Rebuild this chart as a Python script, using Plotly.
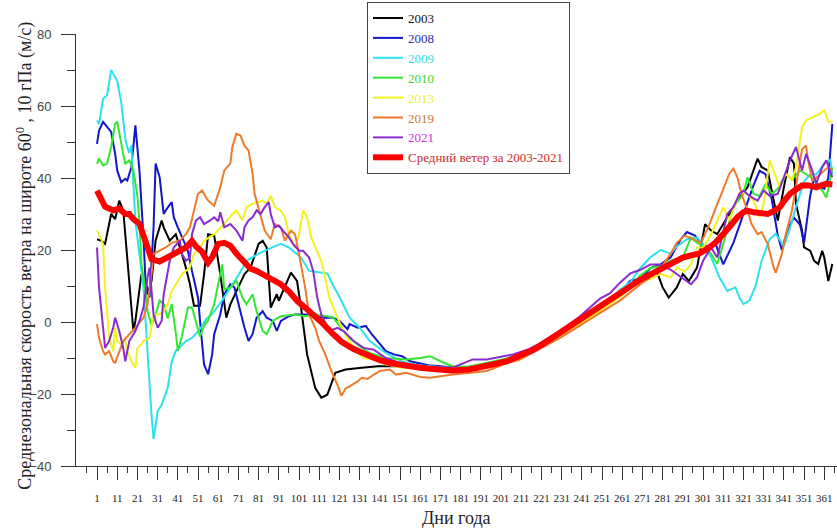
import plotly.graph_objects as go

# Day-of-year knots and zonal-mean wind (m/s) at 60N, 10 hPa
DAYS_2003 = [1, 3, 5, 8, 10, 12, 14, 16, 18, 19, 20, 23, 24, 26, 28, 30, 33, 34, 37, 40, 43, 45, 47, 49, 52, 54,
             56, 59, 62, 65, 67, 71, 74, 77, 81, 83, 85, 87, 90, 91, 94, 97, 100, 102, 105, 109, 112, 115, 119,
             124, 132, 140, 150, 160, 170, 180, 190, 200, 210, 220, 230, 240, 250, 260, 270, 278, 281, 284, 288,
             291, 294, 298, 302, 305, 308, 313, 318, 323, 328, 330, 333, 336, 338, 341, 344, 346, 347, 350, 351,
             354, 356, 358, 360, 361, 363, 365]
WIND_2003 = [23, 22.6, 21.7, 30, 28.6, 33.7, 31, 17, 4, -2.5, 0.3, 13.3, 11.4, 7.7, 11.4, 22.6, 28.2, 26.3, 22.6,
             24.4, 18.9, 15.1, 10.5, 4.5, 4.5, 13.3, 24.4, 24, 13.3, 1.2, 4.9, 9.6, 13.3, 15.1, 21.7, 22.6, 20.7,
             4, 7.7, 5.9, 9.6, 13.7, 11.4, 4, -9, -18.3, -21, -20.2, -14.1, -13.2, -12.7, -12.3, -12.3, -12.7,
             -13, -13, -12.5, -11, -9, -6.5, -3, 1, 4, 7.5, 12, 14.2, 9.6, 6.8, 9.6, 13.3, 11.4, 15.1, 27.2,
             25.4, 24.4, 29.1, 33.7, 37.4, 45.4, 43, 42.1, 33.7, 28.2, 37.4, 45.8, 44, 32.8, 25.4, 20.7, 19.8,
             17, 16.1, 19.8, 17.9, 11.4, 16.1]

DAYS_2008 = [1, 2, 4, 6, 8, 10, 11, 13, 15, 16, 18, 20, 22, 24, 25, 27, 29, 30, 32, 34, 35, 38, 39, 41, 43, 46,
             48, 51, 52, 54, 56, 58, 59, 62, 64, 67, 69, 71, 74, 76, 78, 80, 83, 85, 88, 90, 92, 96, 99, 104,
             109, 114, 118, 121, 125, 126, 130, 134, 137, 140, 144, 148, 152, 156, 165, 175, 185, 195, 200,
             210, 220, 230, 240, 250, 255, 260, 265, 270, 275, 280, 285, 290, 293, 297, 300, 304, 307, 311,
             316, 321, 326, 329, 332, 335, 338, 340, 343, 346, 349, 351, 354, 356, 358, 361, 363, 365]
WIND_2008 = [49.5, 53.2, 55.6, 54.2, 52.8, 46.7, 42.1, 38.8, 39.8, 39.3, 43, 54.6, 42.1, 23.5, 11.4, 6.8, 26.3,
             44, 40.2, 30, 31, 33.3, 29.1, 26.3, 23.5, 19.8, 14.2, 6.8, 0.3, -11.8, -14.5, -9, -3.4, 2.1, 7.7,
             10.5, 9.6, 4.9, -1.6, -5.3, -3.4, 1.2, 3, 1.2, 0.3, -2.5, 0.3, 1.6, 2.1, 2.1, 1.6, 1.2, 1.2, 0.3,
             -2, -0.6, -1.6, -1.1, -3.4, -5.3, -8.1, -9, -9.5, -10.9, -12, -12.5, -12.5, -11.5, -11, -9.5,
             -6.5, -3.5, 0.5, 4, 6, 8, 11.5, 12, 15, 16, 18, 23, 25, 24, 22, 20.5, 22, 16, 22, 30, 38, 42, 41,
             34, 24, 20, 26, 29, 27, 22, 35, 40, 38, 37, 40, 55]

DAYS_2009 = [1, 2, 4, 6, 8, 10, 11, 13, 15, 16, 17, 18, 20, 24, 26, 28, 29, 30, 31, 33, 36, 38, 40, 42, 45, 48,
             52, 55, 58, 63, 67, 71, 75, 78, 82, 87, 92, 96, 100, 102, 106, 111, 115, 118, 121, 126, 131, 136,
             140, 144, 152, 160, 170, 180, 190, 200, 210, 220, 230, 240, 250, 260, 265, 270, 275, 280, 285,
             288, 293, 298, 301, 305, 309, 313, 317, 319, 321, 324, 327, 330, 334, 337, 341, 344, 347, 351,
             354, 357, 361, 364, 365]
WIND_2009 = [56, 55, 62, 63, 70, 68, 67, 61, 51, 48.5, 47, 49, 28, 9.5, -9, -26, -32.5, -29, -24.8, -23, -18.3,
             -11, -8, -7, -5.3, -4.4, -2, 0.8, 2.2, 6, 9.6, 13, 17, 18, 19.3, 20.5, 21.7, 20.7, 19, 17.9, 14.2,
             13.7, 13.5, 10, 7, 1.2, -1.6, -5.3, -7, -8.6, -11, -12, -12.5, -12.8, -12, -11, -9, -6.5, -3.5, 0,
             3.5, 9, 11, 15, 18, 20, 19, 21, 23, 23.5, 21.7, 18, 12.5, 8.6, 9.6, 6.8, 5, 6, 10, 17, 23, 24.5,
             21, 26, 32, 39, 41, 41, 44, 45, 41]

DAYS_2010 = [1, 2, 4, 6, 8, 10, 11, 12, 14, 15, 17, 19, 21, 22, 23, 25, 26, 28, 30, 32, 34, 36, 38, 40, 41, 43,
             46, 48, 50, 52, 54, 56, 59, 62, 63, 64, 67, 70, 73, 75, 78, 80, 83, 85, 88, 92, 96, 99, 104, 109,
             115, 118, 121, 126, 131, 136, 144, 154, 161, 166, 171, 177, 185, 195, 205, 215, 225, 235, 245,
             255, 265, 270, 275, 280, 285, 291, 295, 298, 301, 305, 308, 311, 316, 321, 323, 326, 329, 332,
             335, 338, 342, 345, 349, 352, 355, 358, 360, 362, 363, 365]
WIND_2010 = [44, 45.4, 43.5, 44, 48.6, 55.1, 55.6, 52.3, 46.7, 44, 44.9, 42.1, 35, 28, 16.1, 8.6, 3, -1, 2, 6,
             5, 1, 5, -3, -8, -4, 4, 4, 0, -4, -1, 0.5, 5, 14, 16, 9, 9.6, 11.4, 6.8, 4.9, 7.7, 3, -2.5, -3.4,
             0.3, 1.6, 2, 2.1, 1.6, 2.1, 1.6, 1.2, -1.1, -4.4, -6.7, -8.6, -10, -10.4, -10, -9.5, -10.9, -12.3,
             -12.4, -11.3, -10, -7.8, -4.5, -1, 2.5, 6.5, 10, 13, 15, 15.5, 17, 18, 23.5, 22, 21, 18.9, 16.1,
             21.7, 31.9, 35.6, 40.2, 35.6, 35, 38.4, 35.6, 37, 41.2, 39.5, 42.1, 41, 40, 38, 36.5, 34.6, 37, 43]

DAYS_2013 = [1, 2, 4, 5, 7, 9, 10, 11, 13, 15, 16, 18, 20, 21, 23, 24, 27, 29, 32, 34, 36, 38, 41, 43, 47, 49,
             52, 54, 59, 64, 68, 70, 73, 75, 78, 81, 83, 85, 87, 89, 92, 94, 96, 99, 101, 103, 105, 107, 110,
             112, 114, 116, 120, 123, 126, 129, 133, 138, 144, 152, 160, 170, 180, 190, 200, 210, 220, 230,
             240, 250, 255, 260, 265, 270, 275, 280, 285, 288, 292, 295, 298, 301, 305, 308, 311, 314, 316,
             319, 322, 326, 329, 331, 334, 337, 339, 342, 345, 347, 350, 352, 356, 359, 361, 363, 365]
WIND_2013 = [25.4, 24.4, 21.7, 9.6, -4.4, -8.1, -1.6, -5.3, -6.2, -5.3, -8.1, -10.9, -12.7, -7.2, -6.2, -5.3,
             -4.4, 2.1, 2.1, 3, 4.9, 8.6, 11.4, 13.3, 15.1, 18.9, 20.7, 22.6, 24.4, 27.2, 30, 31, 28.2, 31.9,
             32.8, 33.3, 33.7, 32.8, 35.1, 31.9, 31, 29.1, 24.4, 20.7, 24.4, 31, 29.1, 23.5, 19.8, 17, 12, 6.8,
             1.2, -2.5, -5.3, -8.1, -10, -10.4, -11.8, -12.7, -13, -13.3, -13.3, -12.7, -11.5, -9.5, -7, -4,
             -0.5, 3, 5, 7, 9.5, 11, 12, 13.3, 12.4, 15.1, 14, 16, 20.7, 20.7, 24.4, 28.2, 31.9, 28.2, 31, 35.6,
             36, 33.7, 29.1, 33, 44.9, 40.2, 37.4, 41.2, 39.5, 43, 54.2, 56, 57, 57.9, 58.8, 55.6, 55.6]

DAYS_2019 = [1, 2, 4, 5, 7, 9, 10, 12, 14, 17, 20, 24, 26, 28, 29, 32, 35, 38, 42, 45, 47, 49, 51, 53, 56, 59,
             62, 64, 67, 68, 70, 72, 74, 76, 78, 79, 82, 84, 87, 89, 92, 94, 97, 99, 101, 104, 106, 109, 111,
             114, 117, 120, 122, 124, 126, 130, 132, 135, 138, 141, 146, 149, 154, 161, 166, 171, 177, 186,
             194, 202, 210, 220, 230, 240, 250, 260, 270, 275, 280, 285, 288, 292, 296, 300, 304, 308, 311,
             314, 316, 318, 320, 323, 325, 328, 330, 333, 336, 337, 340, 342, 345, 347, 350, 352, 353, 355,
             357, 361, 363, 365]
WIND_2019 = [-0.6, -4.4, -8.1, -9, -8.1, -10.9, -11.3, -8.1, -5.3, -3.4, -1.6, 1.2, 4.9, 13.3, 18.9, 19.8, 20.7,
             22, 22.6, 24.4, 26.3, 31, 35.6, 36.5, 33.7, 32.3, 37.4, 42.1, 44, 48.6, 52.3, 51.8, 49, 47.7, 41.2,
             35.6, 29.1, 25.4, 23, 27.2, 26.3, 22.6, 25.4, 24.4, 18.9, 9.6, 2.1, -1.6, -5.3, -9, -13.6, -17.4,
             -20.5, -18.5, -17.9, -16.5, -15.5, -15.8, -14.6, -13.6, -13.2, -14.6, -14.1, -15.3, -15.5, -15,
             -14.6, -14.1, -13.6, -11.8, -10.5, -7.5, -4.5, -1, 2.5, 6, 10.5, 12.5, 15, 19, 22, 24, 23, 22, 27,
             32.8, 37.4, 41.2, 42.6, 40.2, 35.6, 31, 27.2, 24.4, 25, 21.7, 15.1, 13.7, 18.9, 24.4, 30.9, 38, 48,
             49, 44.9, 39.3, 40, 42.1, 43, 42]

DAYS_2021 = [1, 2, 4, 5, 7, 9, 10, 12, 14, 15, 17, 20, 22, 24, 26, 27, 29, 31, 33, 34, 37, 39, 42, 43, 45, 47,
             48, 50, 52, 54, 57, 59, 61, 62, 64, 67, 70, 73, 74, 76, 78, 80, 82, 84, 86, 87, 89, 91, 93, 96, 98,
             101, 103, 106, 108, 110, 112, 115, 116, 120, 123, 128, 133, 138, 144, 153, 165, 177, 187, 194,
             202, 207, 215, 220, 230, 240, 245, 250, 255, 260, 265, 270, 275, 280, 285, 290, 295, 298, 301,
             305, 308, 310, 313, 316, 319, 321, 324, 328, 331, 334, 338, 341, 344, 347, 350, 352, 355, 357,
             360, 362, 365]
WIND_2021 = [20.7, 9.6, -1.6, -7.2, -5.3, -1.6, 1.2, -2.5, -7.2, -10.9, -5.3, -2.5, 0.3, 4, 12.4, 15.1, 2.1,
             -1.6, 0.3, 7.7, 17, 20.7, 22.6, 18.9, 17, 17.9, 24.4, 28.2, 29.1, 27.2, 28.2, 29.1, 28, 30.5,
             26.3, 27.2, 25.4, 22.6, 26.3, 28.2, 29.1, 31, 30, 31.9, 33.3, 30, 26.3, 26.8, 25.4, 23.5, 21.7,
             19.8, 19.8, 17.9, 14.2, 6.8, 2.1, -1.6, -2.5, -1.6, -2.5, -5.3, -7.2, -7.7, -10, -11.8, -12.5,
             -12.7, -10.4, -10.4, -9.5, -9, -7.5, -6, -2.5, 1.5, 4, 6.5, 8, 11, 13.5, 14.5, 16, 16, 14.5, 12.5,
             10.5, 12.4, 17, 20.7, 17.9, 22.6, 30, 31.9, 35.6, 36.5, 35, 33.7, 36.5, 35, 35.6, 40.2, 44.9, 48.6,
             42.1, 46.7, 42.1, 38.4, 43, 44.9, 40.2]

DAYS_MEAN = [1, 3, 5, 7, 9, 12, 15, 17, 19, 22, 24, 26, 28, 32, 36, 40, 42, 45, 48, 50, 53, 56, 58, 61, 64, 67,
             70, 72, 75, 77, 80, 83, 87, 92, 96, 100, 104, 108, 112, 118, 122, 128, 134, 140, 146, 154, 161,
             170, 177, 185, 191, 197, 204, 210, 217, 222, 227, 232, 237, 242, 248, 253, 258, 264, 270, 275, 280,
             285, 291, 295, 299, 303, 307, 311, 314, 318, 321, 323, 326, 330, 333, 336, 339, 341, 344, 347,
             350, 353, 357, 360, 362, 365]
WIND_MEAN = [36.5, 34.5, 32, 31.5, 31, 31.5, 30, 30, 28.6, 27.3, 24, 20, 17.5, 16.8, 17.9, 18.9, 19.8, 20.7,
             22.5, 21, 19.5, 16.5, 18, 21.7, 22, 21.2, 19, 17.9, 15.8, 14.8, 14.2, 13.3, 12, 10.5, 8.5, 5.9, 4,
             2.1, 0, -3.4, -5.5, -7.5, -9, -10.4, -11.4, -12.2, -12.7, -13.2, -13.5, -13.2, -12.7, -11.8, -10.9,
             -9.5, -7.7, -6, -4.2, -2.2, -0.3, 1.5, 3.8, 5.5, 7, 9.5, 11.8, 13.3, 14.8, 16.4, 17.9, 18.5, 19,
             20.3, 22, 24.4, 26.5, 29.1, 30.5, 30.9, 30.5, 30.2, 30, 30.8, 31.9, 33.5, 35.6, 36.8, 37.9, 38, 37.4,
             38, 38.4, 38.2]

X_TICKS = list(range(1, 362, 10))
Y_TICKS = [-40, -20, 0, 20, 40, 60, 80]

SERIES = [
    ("2003", DAYS_2003, WIND_2003, "#000000", "#111111", 2),
    ("2008", DAYS_2008, WIND_2008, "#1414c8", "#2a2aa8", 2),
    ("2009", DAYS_2009, WIND_2009, "#2ee0f0", "#33e0ee", 2),
    ("2010", DAYS_2010, WIND_2010, "#33e633", "#33dd33", 2),
    ("2013", DAYS_2013, WIND_2013, "#f2f21e", "#eeee33", 2),
    ("2019", DAYS_2019, WIND_2019, "#ee7a2a", "#cc7a3a", 2),
    ("2021", DAYS_2021, WIND_2021, "#8a2bd0", "#cc33dd", 2),
    ("Средний ветер за 2003-2021", DAYS_MEAN, WIND_MEAN, "#ff0000", "#cc2a2a", 6),
]

fig = go.Figure()
for name, days, wind, color, text_color, width in SERIES:
    fig.add_trace(go.Scatter(
        x=days, y=wind, mode="lines",
        name=f"<span style='color:{text_color}'>{name}</span>",
        line=dict(color=color, width=width),
    ))

axis_color = "#333333"
fig.update_layout(
    width=837, height=528,
    margin=dict(l=76, r=0, t=34, b=62),
    paper_bgcolor="white", plot_bgcolor="white",
    showlegend=True,
    legend=dict(
        x=0.3824, y=1.074, xanchor="left", yanchor="top",
        bgcolor="white", bordercolor="#444444", borderwidth=1,
        font=dict(family="Liberation Serif", size=13, color="#111111"),
        tracegroupgap=0,
    ),
    xaxis=dict(
        range=[-9.4, 367.3], tickmode="array", tickvals=X_TICKS,
        ticktext=[str(v) for v in X_TICKS], tickangle=0,
        showline=True, linecolor=axis_color, linewidth=1,
        ticks="outside", ticklen=13, tickcolor=axis_color, tickwidth=1,
        minor=dict(tick0=6, dtick=10, ticks="outside", ticklen=6, tickcolor=axis_color, showgrid=False),
        showgrid=False, zeroline=False,
        tickfont=dict(family="Liberation Serif", size=11, color="#222222"),
        ticklabelstandoff=9,
    ),
    yaxis=dict(
        range=[-40, 80], tickmode="array", tickvals=Y_TICKS,
        showline=True, linecolor=axis_color, linewidth=1,
        ticks="outside", ticklen=14, tickcolor=axis_color, tickwidth=1,
        minor=dict(tick0=-30, dtick=20, ticks="outside", ticklen=8, tickcolor=axis_color, showgrid=False),
        showgrid=False, zeroline=False,
        tickfont=dict(family="Liberation Sans", size=13, color="#444444"),
        ticklabelstandoff=7,
    ),
    annotations=[
        dict(text="Среднезональная скорость ветра на широте 60<sup>0</sup> , 10 гПа (м/с)",
             xref="paper", yref="paper", x=-0.068, y=0.487, textangle=-90,
             xanchor="center", yanchor="middle", showarrow=False,
             font=dict(family="Liberation Serif", size=18, color="#222222")),
        dict(text="Дни года", xref="paper", yref="paper", x=0.5, y=-0.12,
             xanchor="center", yanchor="middle", showarrow=False,
             font=dict(family="Liberation Serif", size=18, color="#222222")),
    ],
)

fig.write_html("out.html")
